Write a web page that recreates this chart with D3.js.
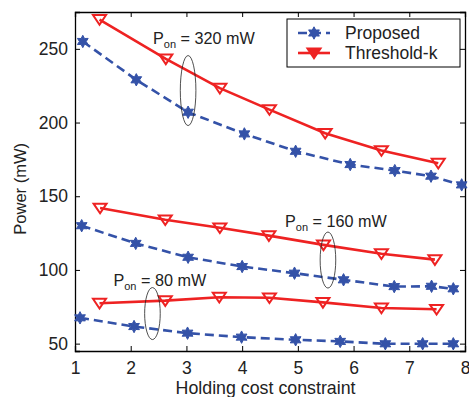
<!DOCTYPE html>
<html>
<head>
<meta charset="utf-8">
<script src="https://cdn.jsdelivr.net/npm/d3@7/dist/d3.min.js"></script>
<style>
  body { margin: 0; background: #fff; }
  svg { font-family: "Liberation Sans", Arial, sans-serif; }
</style>
</head>
<body>
<svg id="chart" width="469" height="397"></svg>
<script>
// values
const xTicks = [1, 2, 3, 4, 5, 6, 7, 8];
const yTicks = [50, 100, 150, 200, 250];

const xProposed320 = [1.14, 2.1, 3.03, 4.04, 4.96, 5.94, 6.74, 7.39, 7.94];
const proposed320 = [255, 229, 207, 192.3, 180.5, 171.5, 167.4, 163.6, 157.7];
const xThreshold320 = [1.44, 2.63, 3.6, 4.49, 5.49, 6.5, 7.52];
const threshold320 = [269.9, 243.2, 223.3, 208.8, 192.7, 181, 172.4];

const xProposed160 = [1.12, 2.09, 3.03, 4.0, 4.94, 5.82, 6.73, 7.4, 7.79];
const proposed160 = [130, 118, 108.6, 102.3, 97.8, 93.3, 88.7, 88.9, 87.2];
const xThreshold160 = [1.45, 2.62, 3.6, 4.48, 5.46, 6.5, 7.46];
const threshold160 = [142, 134, 128.6, 123.3, 117, 111, 107];

const xProposed80 = [1.09, 2.06, 3.02, 3.99, 4.96, 5.76, 6.57, 7.24, 7.79];
const proposed80 = [67.5, 61.6, 57.1, 54.4, 52.6, 51.5, 49.9, 49.9, 49.9];
const xThreshold80 = [1.44, 2.62, 3.59, 4.49, 5.45, 6.5, 7.49];
const threshold80 = [77.4, 79.2, 81.5, 81.1, 78, 74.2, 73.3];

// P_on labels and ellipses (data coordinates)
const ponLabels = ['320', '160', '80'];
const labelX = [2.4, 4.77, 1.69];
const labelY = [253.6, 128.8, 89.4];
const ellipseX = [3.03, 5.54, 2.39];
const ellipseY = [221.7, 106.7, 70.4];
const ellipseRy = [35, 28, 26];

const blue = '#3452a8';
const red = '#ee2222';

const width = 469, height = 397;
const margin = { top: 12, right: 4, bottom: 46, left: 75 };
const w = width - margin.left - margin.right;
const h = height - margin.top - margin.bottom;

const svg = d3.select('#chart');
const g = svg.append('g').attr('transform', `translate(${margin.left},${margin.top})`);

const x = d3.scaleLinear().domain([1, 8]).range([0, w]);
const y = d3.scaleLinear().domain([45, 275]).range([h, 0]);

g.append('rect').attr('width', w).attr('height', h).attr('fill', '#fff');

// axes with inward ticks, MATLAB style box
const xAxis = g.append('g').attr('transform', `translate(0,${h})`)
  .call(d3.axisBottom(x).tickValues(xTicks).tickFormat(d3.format('d')).tickSize(-5).tickPadding(8));
g.append('g').call(d3.axisTop(x).tickValues(xTicks).tickFormat('').tickSize(-5));
const yAxis = g.append('g')
  .call(d3.axisLeft(y).tickValues(yTicks).tickSize(-5).tickPadding(7));
g.append('g').attr('transform', `translate(${w},0)`)
  .call(d3.axisRight(y).tickValues(yTicks).tickFormat('').tickSize(-5));

g.selectAll('.domain').attr('stroke', '#000').attr('stroke-width', 1.3);
g.selectAll('.tick line').attr('stroke', '#000');
g.selectAll('.tick text').attr('font-size', 17.5).attr('fill', '#222')
  .attr('font-family', '"Liberation Sans", Arial, sans-serif');
xAxis.selectAll('.tick text').attr('dy', '0.85em');

svg.append('text')
  .attr('x', margin.left + x(4.42)).attr('y', 394)
  .attr('text-anchor', 'middle').attr('font-size', 17.8).attr('fill', '#222')
  .text('Holding cost constraint');

svg.append('text')
  .attr('transform', `translate(26,${margin.top + y(155)}) rotate(-90)`)
  .attr('text-anchor', 'middle').attr('font-size', 16.5).attr('fill', '#222')
  .text('Power (mW)');

const line = d3.line().x(d => x(d[0])).y(d => y(d[1]));
const star = d3.symbol().type({
  draw(ctx, size) {
    const ro = Math.sqrt(size) * 0.62, ri = ro * 0.55;
    for (let i = 0; i < 12; i++) {
      const r = i % 2 ? ri : ro;
      const a = i * Math.PI / 6 - Math.PI / 2;
      if (i === 0) ctx.moveTo(r * Math.cos(a), r * Math.sin(a));
      else ctx.lineTo(r * Math.cos(a), r * Math.sin(a));
    }
    ctx.closePath();
  }
}).size(100);
const tri = d3.symbol().type({
  draw(ctx, size) {
    const s = Math.sqrt(size);
    ctx.moveTo(-s * 0.62, -s * 0.42);
    ctx.lineTo(s * 0.62, -s * 0.42);
    ctx.lineTo(0, s * 0.5);
    ctx.closePath();
  }
}).size(110);

function proposed(xs, ys) {
  const pts = xs.map((v, i) => [v, ys[i]]);
  g.append('path').datum(pts).attr('d', line).attr('fill', 'none')
    .attr('stroke', blue).attr('stroke-width', 2.6).attr('stroke-dasharray', '9,5');
  g.selectAll(null).data(pts).enter().append('path')
    .attr('d', star).attr('transform', d => `translate(${x(d[0])},${y(d[1])})`)
    .attr('fill', blue).attr('stroke', blue).attr('stroke-width', 1);
}
function threshold(xs, ys) {
  const pts = xs.map((v, i) => [v, ys[i]]);
  g.append('path').datum(pts).attr('d', line).attr('fill', 'none')
    .attr('stroke', red).attr('stroke-width', 2.6);
  g.selectAll(null).data(pts).enter().append('path')
    .attr('d', tri).attr('transform', d => `translate(${x(d[0])},${y(d[1])})`)
    .attr('fill', 'none').attr('stroke', red).attr('stroke-width', 2);
}

threshold(xThreshold320, threshold320);
proposed(xProposed320, proposed320);
threshold(xThreshold160, threshold160);
proposed(xProposed160, proposed160);
threshold(xThreshold80, threshold80);
proposed(xProposed80, proposed80);

// annotations
ponLabels.forEach((p, i) => {
  g.append('ellipse')
    .attr('cx', x(ellipseX[i])).attr('cy', y(ellipseY[i]))
    .attr('rx', 7.8).attr('ry', ellipseRy[i])
    .attr('fill', 'none').attr('stroke', '#222').attr('stroke-width', 0.8);
  const t = g.append('text').attr('x', x(labelX[i])).attr('y', y(labelY[i]))
    .attr('font-size', 16.2).attr('fill', '#222');
  t.append('tspan').text('P');
  t.append('tspan').attr('font-size', 11).attr('dy', 4).text('on');
  t.append('tspan').attr('dy', -4).text(` = ${p} mW`);
});

// legend
const lg = svg.append('g').attr('transform', 'translate(287,19)');
lg.append('rect').attr('width', 173).attr('height', 48)
  .attr('fill', '#fff').attr('stroke', '#000').attr('stroke-width', 1);
const legendNames = ['Proposed', 'Threshold-k'];
legendNames.forEach((name, i) => {
  const ly = 14 + i * 20;
  if (i === 0) {
    lg.append('line').attr('x1', 11).attr('x2', 43).attr('y1', ly).attr('y2', ly)
      .attr('stroke', blue).attr('stroke-width', 2.6).attr('stroke-dasharray', '9,5');
    lg.append('path').attr('d', star).attr('transform', `translate(27,${ly})`)
      .attr('fill', blue).attr('stroke', blue);
  } else {
    lg.append('line').attr('x1', 11).attr('x2', 43).attr('y1', ly).attr('y2', ly)
      .attr('stroke', red).attr('stroke-width', 2.6);
    lg.append('path').attr('d', tri).attr('transform', `translate(27,${ly})`)
      .attr('fill', red).attr('stroke', red).attr('stroke-width', 2);
  }
  lg.append('text').attr('x', 58).attr('y', ly + 6).attr('font-size', 17.5)
    .attr('fill', '#222').text(name);
});
</script>
</body>
</html>
